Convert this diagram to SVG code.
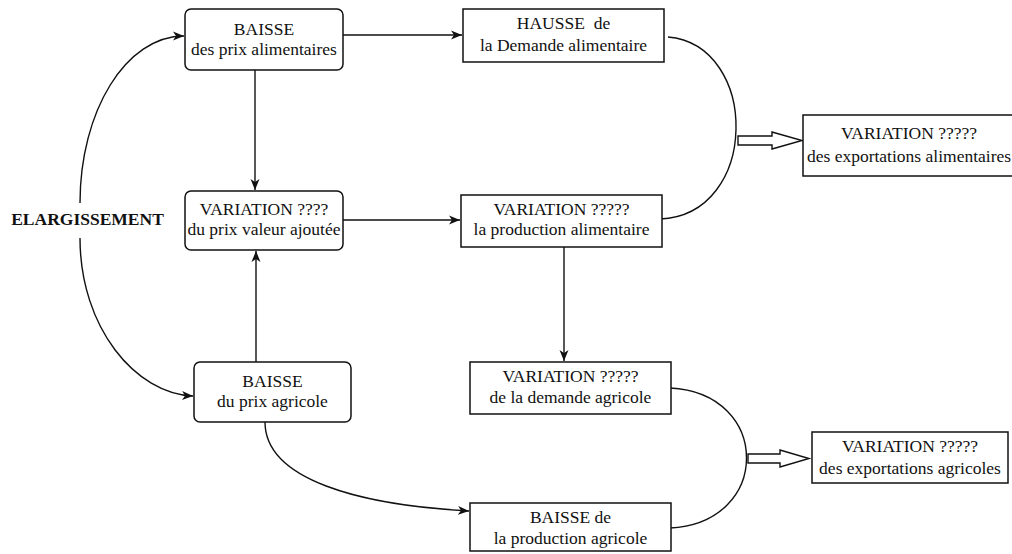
<svg xmlns="http://www.w3.org/2000/svg" width="1012" height="554" viewBox="0 0 1012 554">
<defs>
<style>
.box{fill:#fff;stroke:#111;stroke-width:1.5}
.ln{fill:none;stroke:#111;stroke-width:1.4}
.t{font-family:"Liberation Serif","Times New Roman",serif;font-size:17.5px;fill:#111;text-anchor:middle}
.b{font-weight:bold}
.hol{fill:#fff;stroke:#111;stroke-width:1.4;stroke-linejoin:miter}
</style>
<marker id="ah" markerUnits="userSpaceOnUse" markerWidth="12" markerHeight="10" refX="11" refY="5" orient="auto">
<path d="M0,0.5 L11,5 L0,9.5 L3,5 z" fill="#111"/>
</marker>
</defs>
<rect width="1012" height="554" fill="#fff"/>

<g id="connectors">
<line class="ln" x1="343" y1="35" x2="462" y2="35" marker-end="url(#ah)"/>
<line class="ln" x1="343" y1="220" x2="460" y2="220" marker-end="url(#ah)"/>
<line class="ln" x1="255" y1="70" x2="255" y2="190" marker-end="url(#ah)"/>
<line class="ln" x1="256" y1="362" x2="256" y2="251" marker-end="url(#ah)"/>
<line class="ln" x1="564" y1="247" x2="564" y2="361" marker-end="url(#ah)"/>
<path class="ln" d="M80,203 C80,111 126,36 184,36" marker-end="url(#ah)"/>
<path class="ln" d="M80,238 C80,328 136,394 193,396" marker-end="url(#ah)"/>
<path class="ln" d="M265,422 C265,480 360,505 469,511" marker-end="url(#ah)"/>
<path class="ln" d="M668,37 C760,45 760,215 660,219"/>
<path class="ln" d="M670,388 C772,393 772,523 670,528"/>
<polygon class="hol" points="738,136 772,136 772,132 802,140.5 772,149 772,145 738,145"/>
<polygon class="hol" points="748,454 780,454 780,450 809,458.5 780,467 780,463 748,463"/>
</g>

<g id="label-elargissement">
<text class="t b" x="87.5" y="225">ELARGISSEMENT</text>
</g>

<g id="n-baisse-prix-alim">
<rect class="box" x="185" y="9" width="158" height="61" rx="6"/>
<text class="t" x="264" y="35">BAISSE</text>
<text class="t" x="264" y="55">des prix alimentaires</text>
</g>

<g id="n-variation-prix-va">
<rect class="box" x="185" y="191" width="158" height="59" rx="6"/>
<text class="t" x="264" y="215">VARIATION ????</text>
<text class="t" x="264" y="235">du prix valeur ajoutée</text>
</g>

<g id="n-baisse-prix-agri">
<rect class="box" x="194" y="362" width="157" height="60" rx="6"/>
<text class="t" x="272.5" y="387">BAISSE</text>
<text class="t" x="272.5" y="407">du prix agricole</text>
</g>

<g id="n-hausse-demande">
<rect class="box" x="463" y="9" width="201" height="53"/>
<text class="t" x="563.5" y="29" xml:space="preserve">HAUSSE  de</text>
<text class="t" x="563.5" y="51">la Demande alimentaire</text>
</g>

<g id="n-variation-prod-alim">
<rect class="box" x="461" y="195" width="201" height="52"/>
<text class="t" x="561.5" y="215">VARIATION ?????</text>
<text class="t" x="561.5" y="235">la production alimentaire</text>
</g>

<g id="n-variation-dem-agri">
<rect class="box" x="470" y="362" width="201" height="52"/>
<text class="t" x="570.5" y="382">VARIATION ?????</text>
<text class="t" x="570.5" y="403">de la demande agricole</text>
</g>

<g id="n-baisse-prod-agri">
<rect class="box" x="470" y="503" width="201" height="48"/>
<text class="t" x="570.5" y="523">BAISSE de</text>
<text class="t" x="570.5" y="544">la production agricole</text>
</g>

<g id="n-export-alim">
<rect class="box" x="803" y="115" width="212" height="61"/>
<text class="t" x="909" y="139">VARIATION ?????</text>
<text class="t" x="909" y="162">des exportations alimentaires</text>
</g>

<g id="n-export-agri">
<rect class="box" x="812" y="432" width="196" height="51"/>
<text class="t" x="910" y="452">VARIATION ?????</text>
<text class="t" x="910" y="474">des exportations agricoles</text>
</g>
</svg>
